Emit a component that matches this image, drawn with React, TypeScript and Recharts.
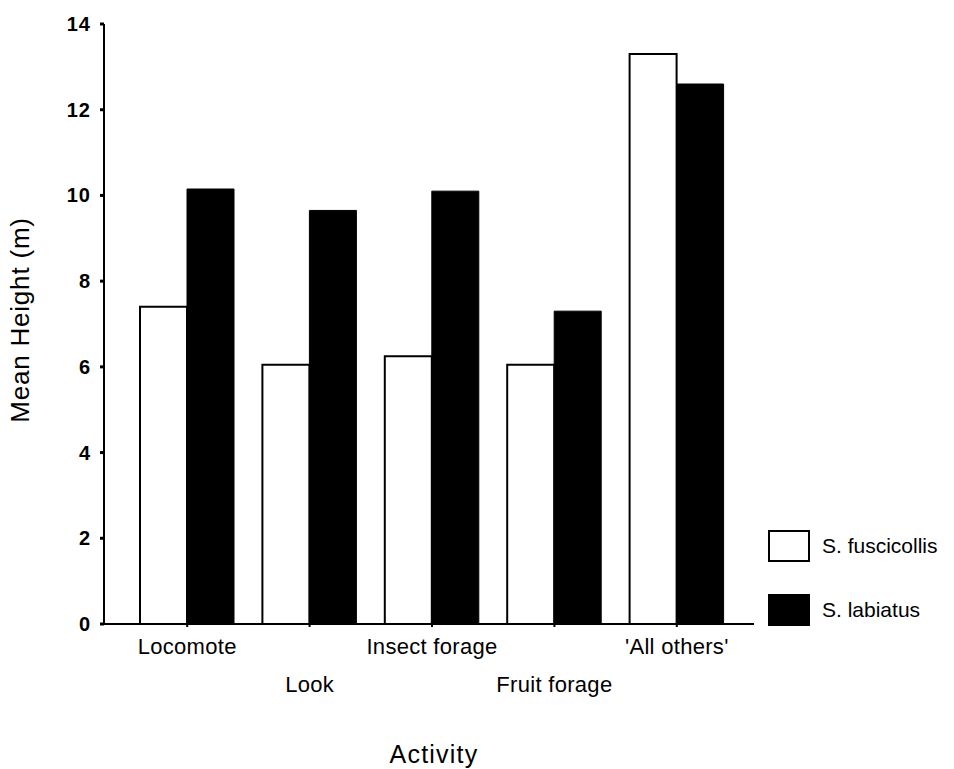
import React from 'react';
import { BarChart, Bar, XAxis, YAxis, Legend, Label } from 'recharts';

const categories = ['Locomote', 'Look', 'Insect forage', 'Fruit forage', "'All others'"];
const fuscicollis = [7.4, 6.05, 6.25, 6.05, 13.3];
const labiatus = [10.15, 9.65, 10.1, 7.3, 12.6];
const yTicks = [0, 2, 4, 6, 8, 10, 12, 14];

const data = categories.map((c, i) => ({ name: c, fus: fuscicollis[i], lab: labiatus[i] }));

const FONT = 'Liberation Sans, Arial, sans-serif';

const XTick = (props: any) => {
  const { x, y, payload, index } = props;
  const dy = index % 2 === 0 ? 25 : 63;
  return (
    <text x={x} y={y + dy} textAnchor="middle" fontSize={22} letterSpacing={0.3} fontFamily={FONT} fill="#000">
      {payload.value}
    </text>
  );
};

const YTick = (props: any) => {
  const { x, y, payload } = props;
  return (
    <text x={x} y={y + 7} textAnchor="end" fontSize={20} fontWeight="bold" letterSpacing={1} fontFamily={FONT} fill="#000">
      {payload.value}
    </text>
  );
};

const LegendContent = (props: any) => {
  const { payload } = props;
  return (
    <div style={{ fontFamily: FONT, fontSize: 21, color: '#000' }}>
      {(payload || []).map((entry: any, i: number) => (
        <div key={i} style={{ display: 'flex', alignItems: 'center', height: 32, marginBottom: 32 }}>
          <div
            style={{
              width: 42,
              height: 32,
              boxSizing: 'border-box',
              background: i === 0 ? '#fff' : '#000',
              border: '2px solid #000',
              marginRight: 12,
            }}
          />
          <span>{entry.value}</span>
        </div>
      ))}
    </div>
  );
};

export default function App() {
  return (
    <div style={{ position: 'absolute', left: 0, top: 0, background: '#fff' }}>
      <BarChart
        width={954}
        height={769}
        data={data}
        margin={{ top: 24, right: 200, bottom: 0, left: 0 }}
        barGap={0}
        barSize={47}
      >
        <XAxis
          dataKey="name"
          height={145}
          padding={{ left: 22, right: 16 }}
          axisLine={{ stroke: '#000', strokeWidth: 2 }}
          tickLine={{ stroke: '#000', strokeWidth: 2 }}
          tickSize={3}
          tick={<XTick />}
          interval={0}
        >
          <Label value="Activity" position="insideBottom" offset={6} dx={5} fontSize={25} letterSpacing={1.2} fontFamily={FONT} fill="#000" />
        </XAxis>
        <YAxis
          width={104}
          domain={[0, 14]}
          ticks={yTicks}
          interval={0}
          axisLine={{ stroke: '#000', strokeWidth: 2 }}
          tickLine={{ stroke: '#000', strokeWidth: 3 }}
          tickSize={4}
          tickMargin={9}
          tick={<YTick />}
        >
          <Label
            value="Mean Height (m)"
            angle={-90}
            position="insideLeft"
            offset={20}
            dy={-4}
            style={{ textAnchor: 'middle' }}
            fontSize={26}
            letterSpacing={0.8}
            fontFamily={FONT}
            fill="#000"
          />
        </YAxis>
        <Legend
          layout="horizontal"
          verticalAlign="middle"
          align="center"
          content={<LegendContent />}
          wrapperStyle={{ position: 'absolute', left: 768, top: 530, width: 186 }}
        />
        <Bar dataKey="fus" name="S. fuscicollis" fill="#ffffff" stroke="#000" strokeWidth={2} isAnimationActive={false} />
        <Bar dataKey="lab" name="S. labiatus" fill="#000000" stroke="#000" strokeWidth={1} isAnimationActive={false} />
      </BarChart>
    </div>
  );
}
